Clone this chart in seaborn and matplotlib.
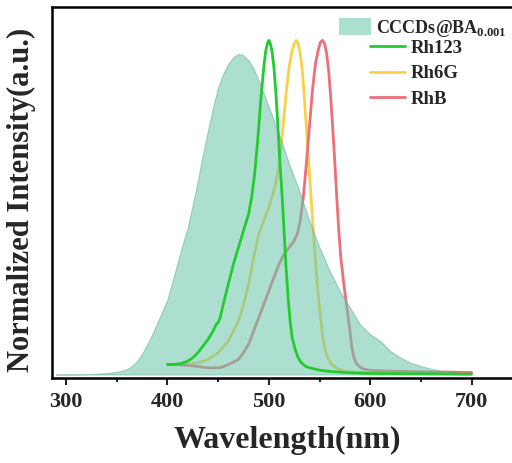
import numpy as np
import pandas as pd
import matplotlib
matplotlib.use("Agg")
import matplotlib.pyplot as plt
import seaborn as sns
from matplotlib.patches import Patch
from matplotlib.lines import Line2D

# CCCDs@BA0.001 emission (filled)
wl_cd = [290, 300, 320, 340, 350, 355, 360, 365, 370, 375, 380, 385, 390, 395, 400, 405,
         410, 415, 420, 425, 430, 435, 440, 445, 450, 455, 460, 465, 470, 475, 480, 485,
         490, 495, 500, 505, 510, 515, 520, 525, 530, 535, 540, 545, 550, 555, 560, 565,
         570, 575, 580, 585, 590, 595, 600, 605, 610, 615, 620, 625, 630, 640, 650, 660,
         670, 680, 690, 700]
int_cd = [0.0, 0.0, 0.001, 0.004, 0.008, 0.011, 0.016, 0.026, 0.04, 0.062, 0.09, 0.12,
          0.155, 0.19, 0.225, 0.28, 0.335, 0.39, 0.44, 0.51, 0.58, 0.66, 0.73, 0.80, 0.86,
          0.90, 0.93, 0.95, 0.96, 0.955, 0.94, 0.915, 0.88, 0.84, 0.80, 0.76, 0.72, 0.675,
          0.63, 0.59, 0.55, 0.505, 0.46, 0.42, 0.38, 0.345, 0.31, 0.28, 0.25, 0.225, 0.20,
          0.175, 0.15, 0.135, 0.12, 0.11, 0.10, 0.085, 0.07, 0.06, 0.05, 0.035, 0.025,
          0.017, 0.011, 0.007, 0.004, 0.002]

# Rh123 absorption
wl_rh123 = [400, 405, 410, 415, 420, 425, 430, 435, 440, 445, 448, 450, 452, 455, 460, 465,
            470, 475, 480, 483, 486, 489, 492, 495, 497, 499, 500, 501, 503, 505, 507, 509,
            511, 513, 515, 517, 519, 521, 523, 526, 529, 532, 536, 540, 550, 560, 580, 600,
            650, 700]
int_rh123 = [0.03, 0.03, 0.031, 0.034, 0.04, 0.05, 0.065, 0.085, 0.105, 0.13, 0.15, 0.155,
             0.17, 0.21, 0.27, 0.33, 0.38, 0.43, 0.48, 0.53, 0.60, 0.70, 0.82, 0.92, 0.97,
             0.995, 1.0, 0.995, 0.97, 0.92, 0.84, 0.74, 0.63, 0.54, 0.43, 0.32, 0.23, 0.16,
             0.11, 0.075, 0.05, 0.035, 0.025, 0.02, 0.013, 0.009, 0.005, 0.003, 0.002, 0.001]

# Rh6G absorption
wl_rh6g = [400, 410, 420, 430, 440, 450, 460, 465, 470, 475, 480, 485, 490, 495, 500, 505,
           508, 511, 514, 517, 520, 523, 525, 527, 529, 531, 533, 535, 537, 539, 541, 543,
           545, 547, 549, 551, 553, 555, 558, 562, 567, 575, 585, 600, 650, 700]
int_rh6g = [0.03, 0.03, 0.031, 0.035, 0.045, 0.065, 0.10, 0.13, 0.16, 0.21, 0.27, 0.35,
            0.42, 0.46, 0.50, 0.55, 0.59, 0.65, 0.74, 0.84, 0.92, 0.97, 0.99, 1.0, 0.99,
            0.96, 0.91, 0.83, 0.74, 0.65, 0.56, 0.47, 0.38, 0.30, 0.23, 0.17, 0.12, 0.08,
            0.05, 0.03, 0.018, 0.01, 0.007, 0.005, 0.003, 0.002]

# RhB absorption
wl_rhb = [400, 410, 420, 430, 440, 450, 455, 460, 465, 470, 475, 480, 485, 490, 495, 500,
          505, 510, 515, 520, 525, 528, 531, 534, 537, 540, 543, 546, 549, 551, 553, 555,
          557, 559, 561, 563, 565, 567, 569, 571, 574, 577, 580, 582, 584, 587, 592, 600,
          620, 650, 680, 700]
int_rhb = [0.03, 0.029, 0.027, 0.024, 0.02, 0.02, 0.023, 0.03, 0.037, 0.045, 0.065, 0.09,
           0.13, 0.17, 0.21, 0.25, 0.29, 0.33, 0.36, 0.38, 0.40, 0.42, 0.46, 0.53, 0.63,
           0.74, 0.85, 0.93, 0.975, 0.995, 1.0, 0.99, 0.96, 0.91, 0.83, 0.74, 0.64, 0.53,
           0.43, 0.35, 0.27, 0.20, 0.13, 0.08, 0.05, 0.03, 0.018, 0.012, 0.01, 0.008,
           0.007, 0.006]

names = ["Rh123", "Rh6G", "RhB"]
colors = ["#22cc2e", "#f7d248", "#ec6f7a"]
fill_color = "#6ac5ac"

df = pd.concat([
    pd.DataFrame({"wl": wl_rh123, "I": int_rh123, "dye": "Rh123"}),
    pd.DataFrame({"wl": wl_rh6g, "I": int_rh6g, "dye": "Rh6G"}),
    pd.DataFrame({"wl": wl_rhb, "I": int_rhb, "dye": "RhB"}),
])

sns.set_style("ticks")
plt.rcParams["font.family"] = ["Liberation Serif", "DejaVu Serif"]
plt.rcParams["font.weight"] = "bold"
plt.rcParams["mathtext.fontset"] = "custom"
plt.rcParams["mathtext.rm"] = "Liberation Serif:bold"
plt.rcParams["mathtext.bf"] = "Liberation Serif:bold"

fig = plt.figure(figsize=(5.12, 4.63), dpi=100)
ax = fig.add_axes([0.102, 0.184, 0.918, 0.801])

sns.lineplot(data=df, x="wl", y="I", hue="dye", palette=dict(zip(names, colors)),
             linewidth=2, ax=ax, legend=False)
ax.fill_between(wl_cd, int_cd, 0, color=fill_color, alpha=0.55, lw=0.8,
                edgecolor="#6aaf9c", zorder=3)
# green curve sits on top of the filled band
ax.lines[0].set_zorder(4)

leg1 = ax.legend([Patch(facecolor=fill_color, alpha=0.55, edgecolor="none")],
                 [r"CCCDs@BA$_{\mathbf{0.001}}$"], loc="upper left",
                 bbox_to_anchor=(0.662, 0.962), bbox_transform=fig.transFigure,
                 frameon=False, fontsize=13, handlelength=1.8, handleheight=1.1,
                 handletextpad=0.25, borderpad=0.0, borderaxespad=0.0)
ax.add_artist(leg1)
ax.legend([Line2D([], [], color=c, lw=2) for c in colors], names, loc="upper left",
          bbox_to_anchor=(0.722, 0.914), bbox_transform=fig.transFigure,
          frameon=False, fontsize=13.5, handlelength=1.9, handletextpad=0.3,
          labelspacing=0.44, borderpad=0.0, borderaxespad=0.0)

ax.set_xlim(286.3, 746)
ax.set_ylim(-0.01, 1.10)
ax.set_xticks([300, 400, 500, 600, 700])
ax.set_xticks([350, 450, 550, 650, 750], minor=True)
ax.set_yticks([])
ax.tick_params(axis="x", which="major", length=5, width=1.5, labelsize=16, pad=5)
ax.tick_params(axis="x", which="minor", length=3, width=1.5)
for lab in ax.get_xticklabels():
    lab.set_fontweight("bold")
for s in ax.spines.values():
    s.set_linewidth(1.8)
    s.set_color("black")

ax.set_xlabel("Wavelength(nm)", fontsize=23, fontweight="bold", labelpad=10)
ax.set_ylabel("Normalized Intensity(a.u.)", fontsize=22, fontweight="bold")
ax.yaxis.set_label_coords(-0.034, 0.48)

fig.savefig("out.png", dpi=100)
